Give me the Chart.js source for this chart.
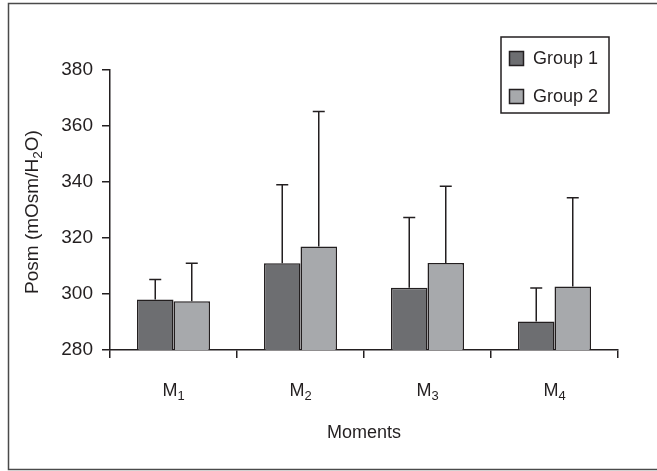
<!DOCTYPE html>
<html>
<head>
<meta charset="utf-8">
<script src="https://cdn.jsdelivr.net/npm/chart.js@4.4.1/dist/chart.umd.min.js"></script>
<style>
  html, body { margin: 0; padding: 0; background: #fff; }
  #wrap { position: relative; width: 657px; height: 471px; }
</style>
</head>
<body>
<div id="wrap"><canvas id="chart" width="657" height="471"></canvas></div>
<script>
// data
const moments = ['1', '2', '3', '4'];          // subscripts of M
const group1 = [298, 311, 302.2, 290.2];
const group1Sd = [7.2, 28, 25.1, 11.9];
const group2 = [297.4, 317, 311.1, 302.7];
const group2Sd = [13.6, 48.2, 27.4, 31.7];
const yTicks = [280, 300, 320, 340, 360, 380];

const INK = '#231f20';
const FONT = '"Liberation Sans", Arial, sans-serif';

// draws text with a lowered, smaller part
function drawSub(ctx, parts, x, y, size) {
    let cx = x;
    parts.forEach(p => {
        const s = p.sub ? size * 0.72 : size;
        ctx.font = s + 'px ' + FONT;
        ctx.fillText(p.t, cx, y + (p.sub ? size * 0.3 : 0));
        cx += ctx.measureText(p.t).width;
    });
    return cx - x;
}
function measureSub(ctx, parts, size) {
    let w = 0;
    parts.forEach(p => {
        ctx.font = (p.sub ? size * 0.72 : size) + 'px ' + FONT;
        w += ctx.measureText(p.t).width;
    });
    return w;
}

const decorPlugin = {
    id: 'decor',
    beforeDraw(chart) {
        const ctx = chart.ctx;
        ctx.save();
        ctx.fillStyle = '#fff';
        ctx.fillRect(0, 0, chart.width, chart.height);
        ctx.strokeStyle = '#4a4a4a';
        ctx.lineWidth = 1.5;
        ctx.strokeRect(8.5, 3.5, 700, 466);
        ctx.restore();
    },
    afterDatasetsDraw(chart) {
        const ctx = chart.ctx;
        const y = chart.scales.y;
        ctx.save();
        ctx.strokeStyle = INK;
        ctx.lineWidth = 1.5;
        chart.data.datasets.forEach((ds, di) => {
            const meta = chart.getDatasetMeta(di);
            meta.data.forEach((bar, i) => {
                const top = y.getPixelForValue(ds.data[i] + ds.sd[i]);
                ctx.beginPath();
                ctx.moveTo(bar.x, bar.y);
                ctx.lineTo(bar.x, top);
                ctx.moveTo(bar.x - 6, top);
                ctx.lineTo(bar.x + 6, top);
                ctx.stroke();
            });
        });
        ctx.restore();
    },
    afterDraw(chart) {
        const ctx = chart.ctx;
        const x = chart.scales.x;
        const area = chart.chartArea;
        ctx.save();
        ctx.fillStyle = INK;
        ctx.textBaseline = 'middle';
        ctx.textAlign = 'left';

        // category labels M with subscript
        moments.forEach((m, i) => {
            const parts = [{ t: 'M' }, { t: m, sub: true }];
            const w = measureSub(ctx, parts, 18);
            drawSub(ctx, parts, x.getPixelForValue(i) - w / 2, 391, 18);
        });

        // axis titles
        ctx.font = '18px ' + FONT;
        ctx.textAlign = 'center';
        ctx.fillText('Moments', (area.left + area.right) / 2, 433);

        ctx.save();
        ctx.translate(33, (area.top + area.bottom) / 2 + 2);
        ctx.rotate(-Math.PI / 2);
        ctx.textAlign = 'left';
        const title = [{ t: 'Posm (mOsm/H' }, { t: '2', sub: true }, { t: 'O)' }];
        const tw = measureSub(ctx, title, 19);
        drawSub(ctx, title, -tw / 2, 0, 19);
        ctx.restore();

        // legend box
        ctx.strokeStyle = INK;
        ctx.lineWidth = 1.5;
        ctx.strokeRect(501, 37, 108, 76);
        chart.data.datasets.forEach((ds, di) => {
            const sy = 51 + di * 38;
            ctx.fillStyle = ds.backgroundColor;
            ctx.fillRect(509.5, sy + 0.5, 14, 14);
            ctx.strokeRect(509.5, sy + 0.5, 14, 14);
            ctx.fillStyle = INK;
            ctx.font = '18px ' + FONT;
            ctx.textAlign = 'left';
            ctx.fillText(ds.label, 533, sy + 8);
        });
        ctx.restore();
    }
};

new Chart(document.getElementById('chart'), {
    type: 'bar',
    data: {
        labels: moments.map(m => 'M' + m),
        datasets: [
            {
                label: 'Group 1',
                data: group1,
                sd: group1Sd,
                backgroundColor: '#6d6e71',
                borderColor: INK,
                borderWidth: 1.5,
                borderSkipped: false
            },
            {
                label: 'Group 2',
                data: group2,
                sd: group2Sd,
                backgroundColor: '#a7a9ac',
                borderColor: INK,
                borderWidth: 1.5,
                borderSkipped: false
            }
        ]
    },
    options: {
        responsive: false,
        animation: false,
        devicePixelRatio: 1,
        layout: { padding: { top: 70, right: 39, left: 0, bottom: 0 } },
        datasets: { bar: { categoryPercentage: 0.575, barPercentage: 1.0 } },
        plugins: {
            legend: { display: false },
            tooltip: { enabled: false }
        },
        scales: {
            x: {
                offset: true,
                grid: { offset: true, drawOnChartArea: false, drawTicks: true, tickLength: 8, color: INK, lineWidth: 1.5 },
                border: { display: true, color: INK, width: 1.5 },
                ticks: { display: false },
                afterFit(scale) { scale.height = 121; }
            },
            y: {
                min: 280,
                max: 380,
                afterBuildTicks(scale) { scale.ticks = yTicks.map(v => ({ value: v })); },
                grid: { drawOnChartArea: false, drawTicks: true, tickLength: 8, color: INK, lineWidth: 1.5 },
                border: { display: true, color: INK, width: 1.5 },
                ticks: { color: INK, padding: 9, font: { family: FONT, size: 19 } },
                afterFit(scale) { scale.width = 110; }
            }
        }
    },
    plugins: [decorPlugin]
});
</script>
</body>
</html>
